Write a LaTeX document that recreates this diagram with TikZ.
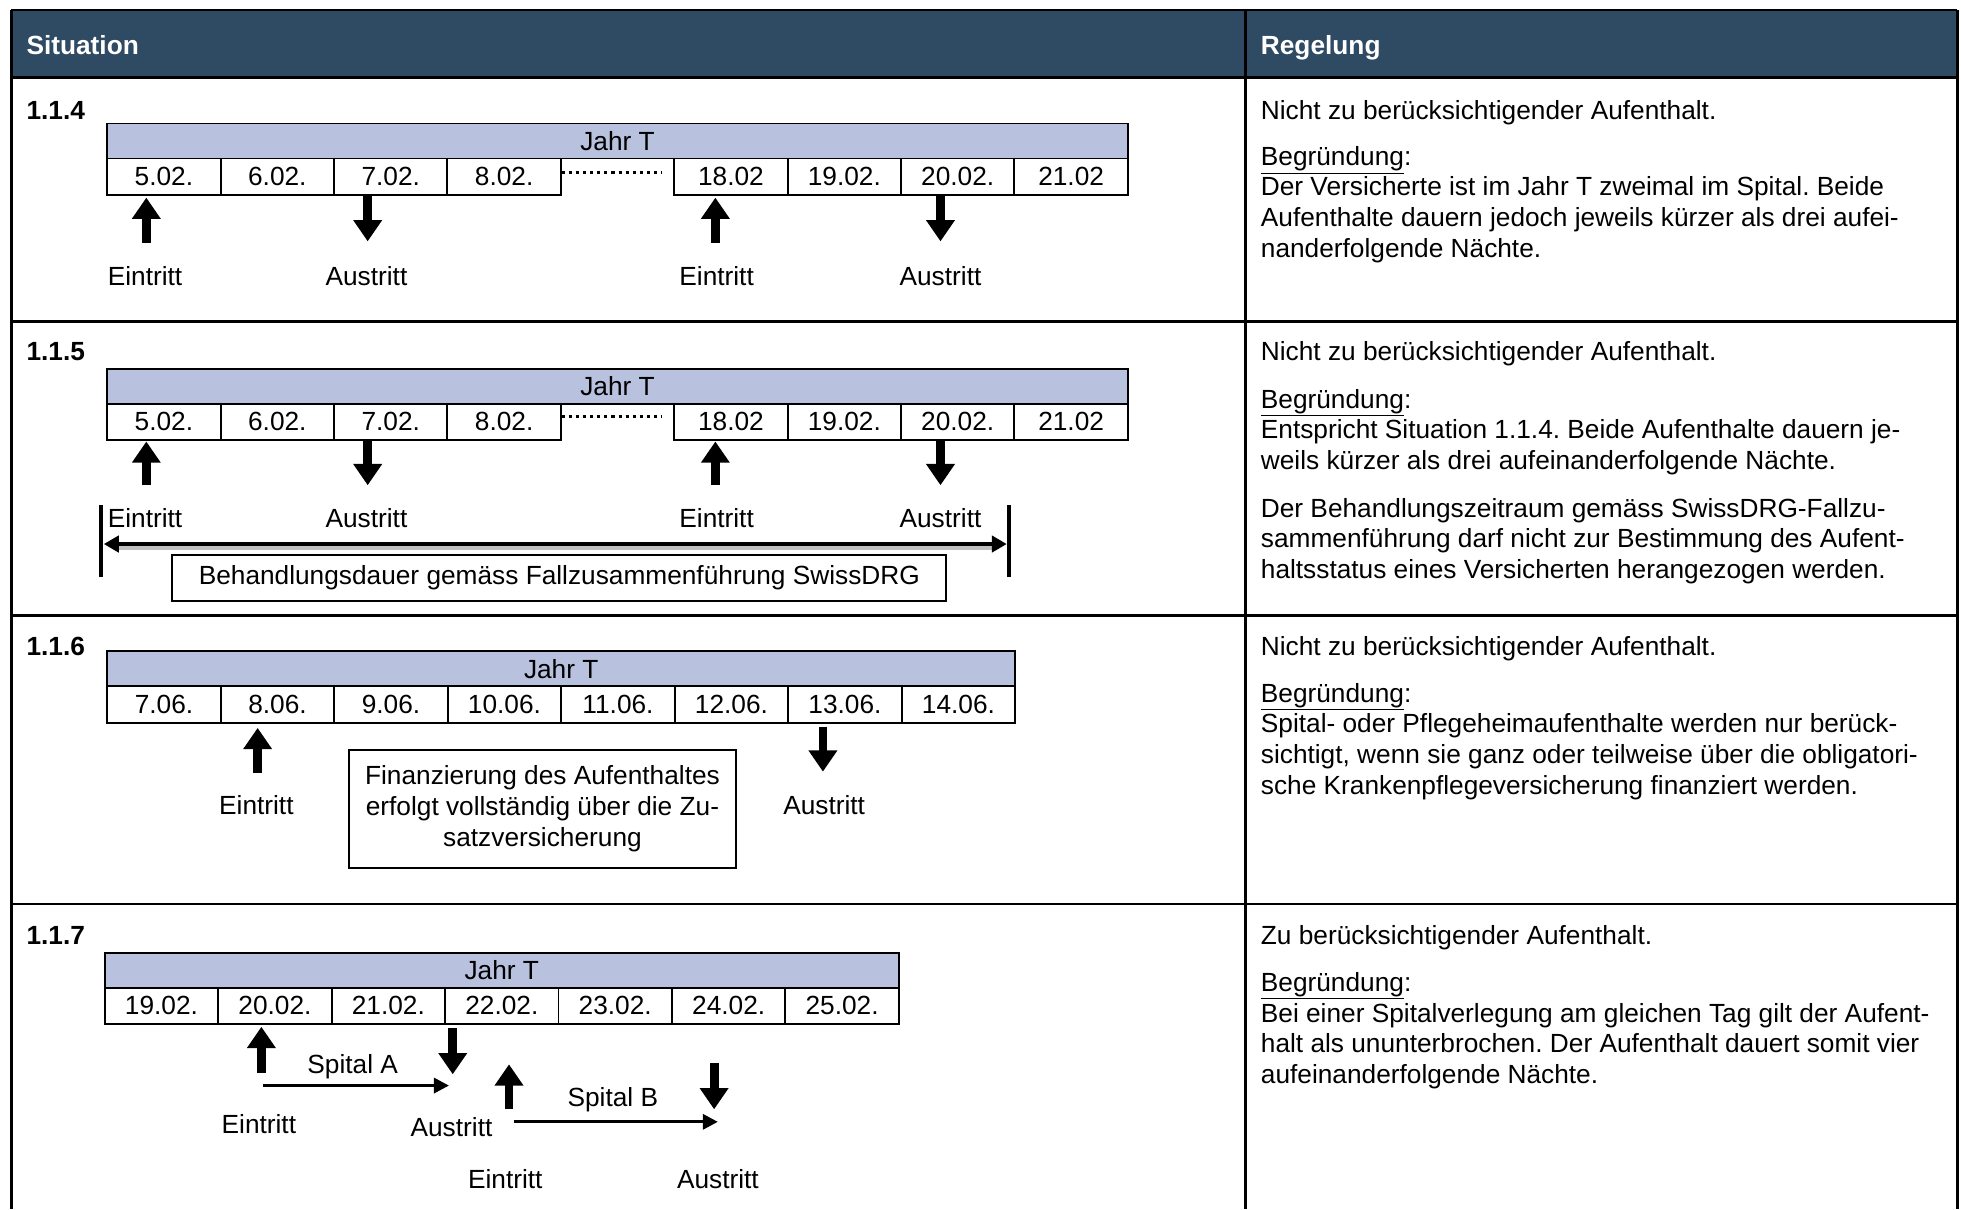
\documentclass[tikz,border=0pt]{standalone}
\usepackage{fontspec}
\setmainfont{Liberation Sans}
\usetikzlibrary{arrows.meta,calc}
\definecolor{hdr}{RGB}{47,74,99}
\definecolor{jahr}{RGB}{184,193,222}
\newcommand{\ulword}[1]{\underline{#1}}
\frenchspacing
\begin{document}
\begin{tikzpicture}[x=1pt,y=-1pt,
 every node/.style={font=\fontsize{21}{24.5}\selectfont\frenchspacing, inner sep=0pt},
 cell/.style={draw, line width=1.5pt, minimum height=29pt, anchor=north west},
 jahrbox/.style={draw, line width=1.5pt, fill=jahr, minimum height=28pt, anchor=north west},
 blkarrow/.style={line width=7pt, -{Triangle[width=22pt,length=17pt]}},
 thinarrow/.style={line width=2.5pt, -{Triangle[width=12pt,length=12pt]}},
 lbl/.style={anchor=base},
 rtext/.style={anchor=base west},
 rowlbl/.style={anchor=base west, font=\fontsize{21}{24.5}\selectfont\bfseries},
 grid/.style={line width=2pt},
 dotline/.style={line width=2.5pt, dash pattern=on 2.5pt off 3.2pt}
]
\useasboundingbox (0,0) rectangle (1568,967);
% ---------- table ----------
\fill[hdr] (9,8) rectangle (1565,62);
\draw[grid] (9,8) -- (1565,8);
\draw[grid] (9,8) -- (9,967);
\draw[grid] (1565,8) -- (1565,967);
\draw[grid] (996,8) -- (996,967);
\draw[line width=2.5pt] (9,62) -- (1565,62);
\draw[grid] (9,257) -- (1565,257);
\draw[grid] (9,492) -- (1565,492);
\draw[grid] (9,723) -- (1565,723);
\node[rowlbl, text=white] (hsit) at (21,43.5) {Situation};
\node[rowlbl, text=white] (hreg) at (1008,43.5) {Regelung};

% ---------- 1.1.4 ----------
\node[rowlbl] (l114) at (21,95.5) {1.1.4};
\node[jahrbox, minimum width=816pt] (ja) at (85,98) {Jahr T};
\foreach \t [count=\i from 0] in {5.02.,6.02.,7.02.,8.02.}
  \node[cell, minimum width=90.67pt] (a\i) at ({85+\i*90.67},126) {\t};
\foreach \t [count=\i from 5] in {18.02,19.02.,20.02.,21.02}
  \node[cell, minimum width=90.67pt] (a\i) at ({85+\i*90.67},126) {\t};
\draw[dotline] (449,138) -- (529,138);
\draw[blkarrow] (117,194) -- (117,158);
\draw[blkarrow] (294,156) -- (294,193);
\draw[blkarrow] (572,194) -- (572,158);
\draw[blkarrow] (752,156) -- (752,193);
\node[lbl] (ae1) at (116,228.5) {Eintritt};
\node[lbl] (aa1) at (293,228.5) {Austritt};
\node[lbl] (ae2) at (573,228.5) {Eintritt};
\node[lbl] (aa2) at (752,228.5) {Austritt};

\node[rtext] (r1a) at (1008,95.5) {Nicht zu berücksichtigender Aufenthalt.};
\node[rtext] (r1b) at (1008,132.5) {\ulword{Begründung}:};
\node[rtext] (r1c) at (1008,156.5) {Der Versicherte ist im Jahr T zweimal im Spital. Beide};
\node[rtext] (r1d) at (1008,181.5) {Aufenthalte dauern jedoch jeweils kürzer als drei aufei-};
\node[rtext] (r1e) at (1008,205.5) {nanderfolgende Nächte.};

% ---------- 1.1.5 ----------
\node[rowlbl] (l115) at (21,288.5) {1.1.5};
\node[jahrbox, minimum width=816pt] (jb) at (85,294) {Jahr T};
\foreach \t [count=\i from 0] in {5.02.,6.02.,7.02.,8.02.}
  \node[cell, minimum width=90.67pt] (b\i) at ({85+\i*90.67},322) {\t};
\foreach \t [count=\i from 5] in {18.02,19.02.,20.02.,21.02}
  \node[cell, minimum width=90.67pt] (b\i) at ({85+\i*90.67},322) {\t};
\draw[dotline] (449,333) -- (529,333);
\draw[blkarrow] (117,388) -- (117,353);
\draw[blkarrow] (294,352) -- (294,388);
\draw[blkarrow] (572,388) -- (572,353);
\draw[blkarrow] (752,352) -- (752,388);
\node[lbl] (be1) at (116,421.5) {Eintritt};
\node[lbl] (ba1) at (293,421.5) {Austritt};
\node[lbl] (be2) at (573,421.5) {Eintritt};
\node[lbl] (ba2) at (752,421.5) {Austritt};
\coordinate (bl) at (81,435);
\coordinate (br) at (807,435);
\draw[line width=3.5pt] (81,404) -- (81,461);
\draw[line width=3.5pt] (807,404) -- (807,461);
\draw[line width=3.5pt, black!25, transform canvas={xshift=2pt,yshift=-3pt}] ([xshift=12pt]bl) -- ([xshift=-12pt]br);
\draw[line width=3.5pt, {Triangle[width=13pt,length=12pt]}-{Triangle[width=13pt,length=12pt]}] ([xshift=2pt]bl) -- ([xshift=-2pt]br);
\node[draw, line width=1.5pt, minimum width=619pt, minimum height=37pt, anchor=north west] (bbox) at (137,443) {Behandlungsdauer gemäss Fallzusammenführung SwissDRG};

\node[rtext] (r2a) at (1008,288.5) {Nicht zu berücksichtigender Aufenthalt.};
\node[rtext] (r2b) at (1008,326.5) {\ulword{Begründung}:};
\node[rtext] (r2c) at (1008,350.5) {Entspricht Situation 1.1.4. Beide Aufenthalte dauern je-};
\node[rtext] (r2d) at (1008,375.5) {weils kürzer als drei aufeinanderfolgende Nächte.};
\node[rtext] (r2e) at (1008,413.5) {Der Behandlungszeitraum gemäss SwissDRG-Fallzu-};
\node[rtext] (r2f) at (1008,437.5) {sammenführung darf nicht zur Bestimmung des Aufent-};
\node[rtext] (r2g) at (1008,462.5) {haltsstatus eines Versicherten herangezogen werden.};

% ---------- 1.1.6 ----------
\node[rowlbl] (l116) at (21,524.5) {1.1.6};
\node[jahrbox, minimum width=726pt] (jc) at (85,520) {Jahr T};
\foreach \t [count=\i from 0] in {7.06.,8.06.,9.06.,10.06.,11.06.,12.06.,13.06.,14.06.}
  \node[cell, minimum width=90.75pt] (c\i) at ({85+\i*90.75},548) {\t};
\draw[blkarrow] (206,618) -- (206,582);
\draw[blkarrow] (658,581) -- (658,617);
\node[lbl] (ce1) at (205,651.5) {Eintritt};
\node[lbl] (ca1) at (659,651.5) {Austritt};
\node[draw, line width=1.5pt, minimum width=310pt, minimum height=94pt, anchor=north west, align=center] (cbox) at (278,599)
  {Finanzierung des Aufenthaltes\\[0.5pt] erfolgt vollständig über die Zu-\\[0.5pt] satzversicherung};

\node[rtext] (r3a) at (1008,524.5) {Nicht zu berücksichtigender Aufenthalt.};
\node[rtext] (r3b) at (1008,561.5) {\ulword{Begründung}:};
\node[rtext] (r3c) at (1008,585.5) {Spital- oder Pflegeheimaufenthalte werden nur berück-};
\node[rtext] (r3d) at (1008,610.5) {sichtigt, wenn sie ganz oder teilweise über die obligatori-};
\node[rtext] (r3e) at (1008,635.5) {sche Krankenpflegeversicherung finanziert werden.};

% ---------- 1.1.7 ----------
\node[rowlbl] (l117) at (21,755.5) {1.1.7};
\node[jahrbox, minimum width=635pt] (jd) at (83,761) {Jahr T};
\foreach \t [count=\i from 0] in {19.02.,20.02.,21.02.,22.02.,23.02.,24.02.,25.02.}
  \node[cell, minimum width=90.71pt] (d\i) at ({83+\i*90.71},789) {\t};
\draw[blkarrow] (209,858) -- (209,821);
\draw[blkarrow] (362,822) -- (362,859);
\draw[blkarrow] (407,887) -- (407,851);
\draw[blkarrow] (571,850) -- (571,887);
\node[lbl] (spa) at (282,858.5) {Spital A};
\node[lbl] (spb) at (490,884.5) {Spital B};
\coordinate (sa1) at (210,868);
\coordinate (sa2) at (359,868);
\coordinate (sb1) at (411,897);
\coordinate (sb2) at (574,897);
\draw[thinarrow] (sa1) -- (sa2);
\draw[thinarrow] (sb1) -- (sb2);
\node[lbl] (de1) at (207,906.5) {Eintritt};
\node[lbl] (da1) at (361,908.5) {Austritt};
\node[lbl] (de2) at (404,950.5) {Eintritt};
\node[lbl] (da2) at (574,950.5) {Austritt};

\node[rtext] (r4a) at (1008,755.5) {Zu berücksichtigender Aufenthalt.};
\node[rtext] (r4b) at (1008,792.5) {\ulword{Begründung}:};
\node[rtext] (r4c) at (1008,817.5) {Bei einer Spitalverlegung am gleichen Tag gilt der Aufent-};
\node[rtext] (r4d) at (1008,841.5) {halt als ununterbrochen. Der Aufenthalt dauert somit vier};
\node[rtext] (r4e) at (1008,866.5) {aufeinanderfolgende Nächte.};
\end{tikzpicture}
\end{document}
